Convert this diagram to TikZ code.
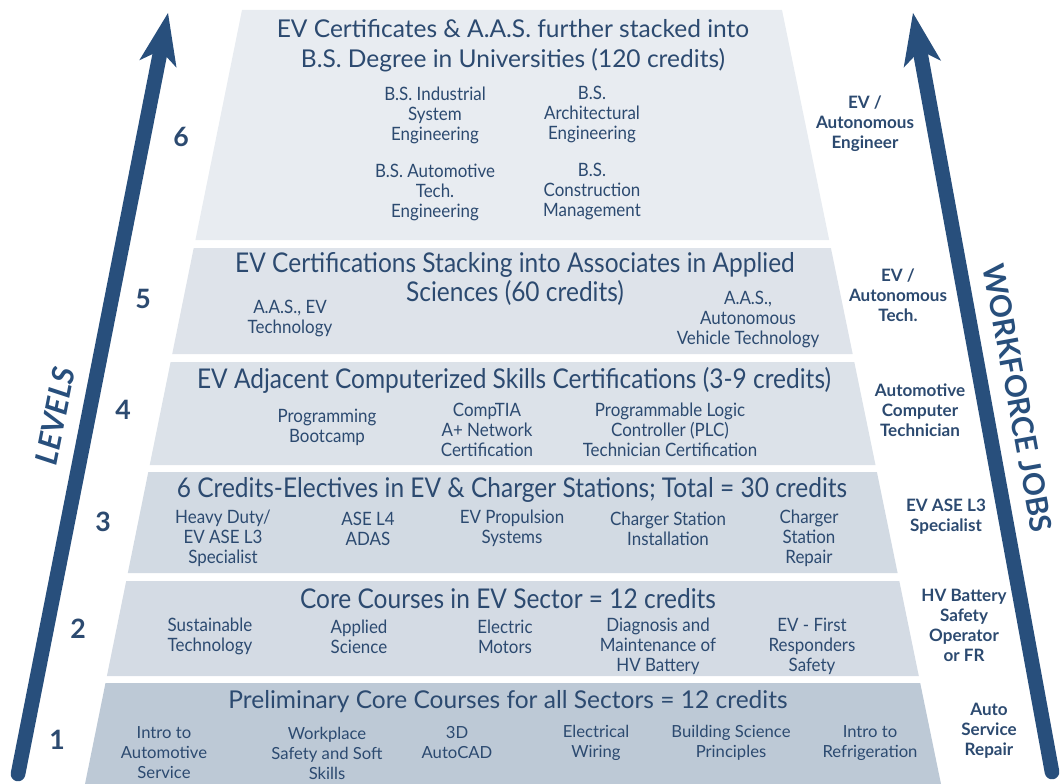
\documentclass[tikz,border=0pt]{standalone}
\usepackage{fontspec}
\setmainfont{Lato}
\newfontfamily\titlefont[FakeStretch=0.9]{Lato}
\newfontfamily\coursefont[FakeStretch=0.92]{Lato}
\usetikzlibrary{arrows.meta}

\definecolor{ink}{HTML}{2C4A70}
\definecolor{arrowblue}{HTML}{284F7C}
\definecolor{tierone}{HTML}{BDC9D6}
\definecolor{tiertwo}{HTML}{D4DBE4}
\definecolor{tierthree}{HTML}{D2DAE3}
\definecolor{tierfour}{HTML}{DCE2E9}
\definecolor{tierfive}{HTML}{DEE3EA}
\definecolor{tiersix}{HTML}{E8ECF1}

\tikzset{
  every node/.style={text=ink, inner sep=0pt, align=center},
  headline/.style={font=\fontsize{18.4}{22.5}\selectfont},
  narrowhead/.style={font=\titlefont\fontsize{20.4}{21.75}\selectfont},
  course/.style={font=\coursefont\fontsize{13.8}{15}\selectfont},
  basecourse/.style={font=\fontsize{12.5}{15}\selectfont},
  job/.style={font=\bfseries\fontsize{12.8}{15}\selectfont},
  levelnum/.style={font=\bfseries\fontsize{20}{20}\selectfont},
  axisname/.style={font=\bfseries\fontsize{22.4}{22.4}\selectfont, text=arrowblue},
  shaft/.style={draw=arrowblue, line width=11pt, line cap=round},
  head/.style={fill=arrowblue},
}

\begin{document}
\begin{tikzpicture}[x=0.75pt, y=-0.75pt]
\useasboundingbox (0,0) rectangle (1062,784);

% ---- pyramid tiers (bottom = level 1) ----
\fill[tierone]   (105.5,683) -- (920.2,683) -- (941,784)   -- (85,784)    -- cycle;
\fill[tiertwo]   (126.2,581) -- (899.3,581) -- (918.8,676) -- (106.9,676) -- cycle;
\fill[tierthree] (148.3,472) -- (876.9,472) -- (897.6,573) -- (127.8,573) -- cycle;
\fill[tierfour]  (170.6,362) -- (854.3,362) -- (875.5,465) -- (149.7,465) -- cycle;
\fill[tierfive]  (193.7,248) -- (830.9,248) -- (852.7,354) -- (172.2,354) -- cycle;
\fill[tiersix]   (242,10)    -- (782,10)    -- (829.2,240) -- (195.4,240) -- cycle;

% ---- side arrows ----
\coordinate (lbot) at (18,774);
\coordinate (lneck) at (160.6,50.3);
\coordinate (ltip) at (168,13);
\draw[shaft] (lbot) -- (lneck);
\fill[head] (ltip) -- (176.5,67.7) -- (lneck) -- (139.3,60.3) -- cycle;

\coordinate (rbot) at (1052,772);
\coordinate (rneck) at (919.9,50.4);
\coordinate (rtip) at (913,13);
\draw[shaft] (rbot) -- (rneck);
\fill[head] (rtip) -- (941.1,60.8) -- (rneck) -- (903.7,67.6) -- cycle;

\node[axisname, font=\bfseries\itshape\fontsize{23}{23}\selectfont, rotate=78.9] (levels) at (55,416) {LEVELS};
\node[axisname, rotate=-79.6] (workforce) at (1018,398) {WORKFORCE JOBS};

% ---- level numbers ----
\node[levelnum] (n6) at (181,137) {6};
\node[levelnum] (n5) at (143,299) {5};
\node[levelnum] (n4) at (123,410) {4};
\node[levelnum] (n3) at (103,522) {3};
\node[levelnum] (n2) at (78,629)  {2};
\node[levelnum] (n1) at (57,740)  {1};

% ---- level 6 ----
\node[headline] (t6) at (513,46) {EV Certificates \& A.A.S. further stacked into\\B.S. Degree in Universities (120 credits)};
\node[course] (c6a) at (435,115) {B.S. Industrial\\System\\Engineering};
\node[course] (c6b) at (592,115) {B.S.\\Architectural\\Engineering};
\node[course] (c6c) at (435,192) {B.S. Automotive\\Tech.\\Engineering};
\node[course] (c6d) at (592,192) {B.S.\\Construction\\Management};
\node[job] (j6) at (865,124) {EV /\\Autonomous\\Engineer};

% ---- level 5 ----
\node[narrowhead] (t5) at (515,279) {EV Certifications Stacking into Associates in Applied\\Sciences (60 credits)};
\node[course] (c5a) at (290,318.5) {A.A.S., EV\\Technology};
\node[course] (c5b) at (748,320) {A.A.S.,\\Autonomous\\Vehicle Technology};
\node[job] (j5) at (898,295) {EV /\\Autonomous\\Tech.};

% ---- level 4 ----
\node[narrowhead] (t4) at (514,380) {EV Adjacent Computerized Skills Certifications (3-9 credits)};
\node[course] (c4a) at (327,427) {Programming\\Bootcamp};
\node[course] (c4b) at (487,430) {CompTIA\\A+ Network\\Certification};
\node[course] (c4c) at (670,430) {Programmable Logic\\Controller (PLC)\\Technician Certification};
\node[job] (j4) at (920,410) {Automotive\\Computer\\Technician};

% ---- level 3 ----
\node[narrowhead] (t3) at (512,490) {6 Credits-Electives in EV \& Charger Stations; Total = 30 credits};
\node[course] (c3a) at (223,538)   {Heavy Duty/\\EV ASE L3\\Specialist};
\node[course] (c3b) at (368,528.5) {ASE L4\\ADAS};
\node[course] (c3c) at (512,528.5) {EV Propulsion\\Systems};
\node[course] (c3d) at (668,528.5) {Charger Station\\Installation};
\node[course] (c3e) at (809,538)   {Charger\\Station\\Repair};
\node[job] (j3) at (946,516.5) {EV ASE L3\\Specialist};

% ---- level 2 ----
\node[narrowhead] (t2) at (508,599) {Core Courses in EV Sector = 12 credits};
\node[course] (c2a) at (210,636.5) {Sustainable\\Technology};
\node[course] (c2b) at (359,636.5) {Applied\\Science};
\node[course] (c2c) at (505,636.5) {Electric\\Motors};
\node[course] (c2d) at (658,646)   {Diagnosis and\\Maintenance of\\HV Battery};
\node[course] (c2e) at (812,646)   {EV - First\\Responders\\Safety};
\node[job] (j2) at (964,625) {HV Battery\\Safety\\Operator\\or FR};

% ---- level 1 ----
\node[headline] (t1) at (508,702) {Preliminary Core Courses for all Sectors = 12 credits};
\node[basecourse] (c1a) at (164,753) {Intro to\\Automotive\\Service};
\node[basecourse] (c1b) at (327,753) {Workplace\\Safety and Soft\\Skills};
\node[basecourse] (c1c) at (457,743) {3D\\AutoCAD};
\node[basecourse] (c1d) at (596,743) {Electrical\\Wiring};
\node[basecourse] (c1e) at (731,743) {Building Science\\Principles};
\node[basecourse] (c1f) at (870,743) {Intro to\\Refrigeration};
\node[job] (j1) at (989,731) {Auto\\Service\\Repair};
\end{tikzpicture}
\end{document}
